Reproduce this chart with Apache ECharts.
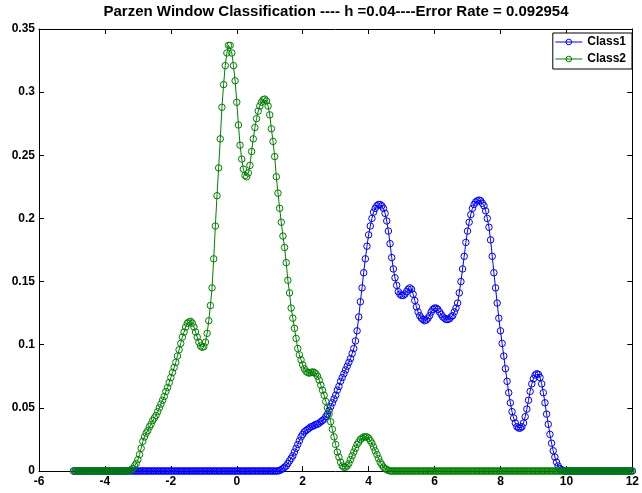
<!DOCTYPE html>
<html>
<head>
<meta charset="utf-8">
<script src="https://cdn.jsdelivr.net/npm/echarts@6/dist/echarts.min.js"></script>
<style>
  html, body { margin: 0; padding: 0; background: #fff; }
  #chart { width: 642px; height: 493px; }
</style>
</head>
<body>
<div id="chart"></div>
<script>
// Parzen-window density estimates, sampled on a uniform grid
const xStart = -4.95;
const xStep = 0.05;

// Class1 density, one row per 0.5 units of x (row 0 starts at -4.95)
const class1 = [
  0, 0, 0, 0, 0, 0, 0, 0, 0, 0,
  0, 0, 0, 0, 0, 0, 0, 0, 0, 0,
  0, 0, 0, 0, 0, 0, 0, 0, 0, 0,
  0, 0, 0, 0, 0, 0, 0, 0, 0, 0,
  0, 0, 0, 0, 0, 0, 0, 0, 0, 0,
  0, 0, 0, 0, 0, 0, 0, 0, 0, 0,
  0, 0, 0, 0, 0, 0, 0, 0, 0, 0,
  0, 0, 0, 0, 0, 0, 0, 0, 0, 0,
  0, 0, 0, 0, 0, 0, 0, 0, 0, 0,
  0, 0, 0, 0, 0, 0, 0, 0, 0, 0,
  0, 0, 0, 0, 0, 0, 0, 0, 0, 0,
  0, 0, 0, 0, 0, 0, 0, 0, 0, 0,
  0, 0, 0, 0, 0, 0.0005, 0.001, 0.002, 0.003, 0.004,
  0.006, 0.008, 0.010, 0.012, 0.015, 0.018, 0.021, 0.024, 0.027, 0.029,
  0.031, 0.032, 0.033, 0.034, 0.035, 0.0355, 0.036, 0.037, 0.037, 0.038,
  0.039, 0.040, 0.041, 0.043, 0.045, 0.048, 0.051, 0.054, 0.057, 0.060,
  0.064, 0.067, 0.071, 0.074, 0.077, 0.080, 0.083, 0.086, 0.089, 0.093,
  0.097, 0.103, 0.111, 0.122, 0.134, 0.145, 0.157, 0.168, 0.178, 0.187,
  0.194, 0.200, 0.205, 0.208, 0.210, 0.211, 0.211, 0.210, 0.208, 0.204,
  0.198, 0.190, 0.180, 0.169, 0.160, 0.153, 0.147, 0.142, 0.140, 0.139,
  0.139, 0.140, 0.142, 0.144, 0.145, 0.144, 0.140, 0.135, 0.130, 0.126,
  0.123, 0.121, 0.120, 0.119, 0.1195, 0.121, 0.123, 0.126, 0.128, 0.129,
  0.129, 0.128, 0.126, 0.124, 0.122, 0.121, 0.120, 0.120, 0.1205, 0.122,
  0.123, 0.126, 0.129, 0.133, 0.141, 0.150, 0.160, 0.170, 0.181, 0.190,
  0.197, 0.203, 0.208, 0.211, 0.213, 0.214, 0.2145, 0.214, 0.212, 0.210,
  0.206, 0.200, 0.193, 0.183, 0.170, 0.157, 0.145, 0.133, 0.121, 0.111,
  0.101, 0.091, 0.081, 0.071, 0.062, 0.054, 0.047, 0.042, 0.038, 0.035,
  0.034, 0.034, 0.035, 0.038, 0.043, 0.049, 0.056, 0.063, 0.069, 0.073,
  0.076, 0.077, 0.0765, 0.074, 0.069, 0.062, 0.054, 0.045, 0.037, 0.029,
  0.022, 0.016, 0.011, 0.007, 0.004, 0.002, 0.001, 0.0005, 0, 0,
  0, 0, 0, 0, 0, 0, 0, 0, 0, 0,
  0, 0, 0, 0, 0, 0, 0, 0, 0, 0,
  0, 0, 0, 0, 0, 0, 0, 0, 0, 0,
  0, 0, 0, 0, 0, 0, 0, 0, 0, 0
];

// Class2 density, same grid
const class2 = [
  0, 0, 0, 0, 0, 0, 0, 0, 0, 0,
  0, 0, 0, 0, 0, 0, 0, 0, 0, 0,
  0, 0, 0, 0, 0, 0, 0, 0, 0, 0,
  0, 0, 0, 0, 0.0005, 0.001, 0.002, 0.004, 0.006, 0.009,
  0.013, 0.018, 0.0235, 0.027, 0.030, 0.032, 0.035, 0.037, 0.040, 0.042,
  0.044, 0.047, 0.050, 0.053, 0.056, 0.059, 0.063, 0.066, 0.070, 0.074,
  0.078, 0.082, 0.086, 0.091, 0.096, 0.101, 0.106, 0.110, 0.114, 0.117,
  0.118, 0.1185, 0.117, 0.114, 0.110, 0.106, 0.102, 0.099, 0.098, 0.0985,
  0.102, 0.109, 0.119, 0.131, 0.145, 0.168, 0.194, 0.218, 0.240, 0.263,
  0.288, 0.306, 0.321, 0.331, 0.337, 0.337, 0.331, 0.321, 0.309, 0.292,
  0.274, 0.258, 0.247, 0.239, 0.234, 0.233, 0.236, 0.242, 0.253, 0.263,
  0.272, 0.279, 0.285, 0.289, 0.292, 0.294, 0.2945, 0.293, 0.289, 0.282,
  0.271, 0.261, 0.249, 0.233, 0.220, 0.208, 0.197, 0.186, 0.177, 0.165,
  0.151, 0.141, 0.129, 0.121, 0.113, 0.105, 0.097, 0.092, 0.088, 0.084,
  0.081, 0.079, 0.078, 0.0775, 0.078, 0.0785, 0.078, 0.077, 0.075, 0.072,
  0.068, 0.064, 0.060, 0.055, 0.050, 0.045, 0.039, 0.033, 0.027, 0.021,
  0.015, 0.011, 0.007, 0.004, 0.003, 0.003, 0.004, 0.006, 0.009, 0.012,
  0.015, 0.018, 0.021, 0.023, 0.025, 0.026, 0.027, 0.027, 0.027, 0.026,
  0.024, 0.022, 0.019, 0.016, 0.013, 0.010, 0.007, 0.005, 0.003, 0.002,
  0.001, 0.0005, 0, 0, 0, 0, 0, 0, 0, 0,
  0, 0, 0, 0, 0, 0, 0, 0, 0, 0,
  0, 0, 0, 0, 0, 0, 0, 0, 0, 0,
  0, 0, 0, 0, 0, 0, 0, 0, 0, 0,
  0, 0, 0, 0, 0, 0, 0, 0, 0, 0,
  0, 0, 0, 0, 0, 0, 0, 0, 0, 0,
  0, 0, 0, 0, 0, 0, 0, 0, 0, 0,
  0, 0, 0, 0, 0, 0, 0, 0, 0, 0,
  0, 0, 0, 0, 0, 0, 0, 0, 0, 0,
  0, 0, 0, 0, 0, 0, 0, 0, 0, 0,
  0, 0, 0, 0, 0, 0, 0, 0, 0, 0,
  0, 0, 0, 0, 0, 0, 0, 0, 0, 0,
  0, 0, 0, 0, 0, 0, 0, 0, 0, 0,
  0, 0, 0, 0, 0, 0, 0, 0, 0, 0,
  0, 0, 0, 0, 0, 0, 0, 0, 0, 0
];

const seriesNames = ['Class1', 'Class2'];
const seriesColors = ['#0000ff', '#008000'];
const titleText = 'Parzen Window Classification ---- h =0.04----Error Rate = 0.092954';

const FONT = '"Liberation Sans", Arial, Helvetica, sans-serif';

function toPairs(values) {
  return values.map((v, i) => [+(xStart + i * xStep).toFixed(2), v]);
}

const labelStyle = { fontFamily: FONT, fontWeight: 'bold', fontSize: 12, color: '#000' };
const frameLine = { show: true, onZero: false, lineStyle: { color: '#000', width: 1 } };
const innerTick = { show: true, inside: true, length: 5, lineStyle: { color: '#000', width: 1 } };

const chart = echarts.init(document.getElementById('chart'), null, { renderer: 'canvas' });

chart.setOption({
  animation: false,
  backgroundColor: '#fff',
  title: {
    text: titleText,
    left: 336,
    textAlign: 'center',
    top: 4,
    padding: 0,
    textStyle: { fontFamily: FONT, fontWeight: 'bold', fontSize: 15, color: '#000' }
  },
  legend: {
    data: seriesNames.map((n, k) => ({
      name: n,
      itemStyle: { color: 'rgba(0,0,0,0)', borderColor: seriesColors[k], borderWidth: 1 },
      lineStyle: { color: seriesColors[k], width: 1 }
    })),
    orient: 'vertical',
    right: 10,
    top: 33,
    backgroundColor: '#fff',
    borderColor: '#000',
    borderWidth: 1,
    borderRadius: 0,
    padding: [2, 6, 3, 2],
    itemGap: 3,
    itemWidth: 27,
    itemHeight: 7,
    selectedMode: false,
    textStyle: { fontFamily: FONT, fontWeight: 'bold', fontSize: 12, color: '#000', lineHeight: 14 }
  },
  grid: { left: 39, right: 9, top: 29, bottom: 22, containLabel: false },
  xAxis: [
    {
      type: 'value', min: -6, max: 12, interval: 2, position: 'bottom',
      axisLine: frameLine, axisTick: innerTick,
      axisLabel: Object.assign({ margin: 5 }, labelStyle),
      splitLine: { show: false }
    },
    {
      type: 'value', min: -6, max: 12, interval: 2, position: 'top',
      axisLine: frameLine, axisTick: innerTick,
      axisLabel: { show: false }, splitLine: { show: false }
    }
  ],
  yAxis: [
    {
      type: 'value', min: 0, max: 0.35, interval: 0.05, position: 'left',
      axisLine: frameLine, axisTick: innerTick,
      axisLabel: Object.assign({ margin: 4 }, labelStyle),
      splitLine: { show: false }
    },
    {
      type: 'value', min: 0, max: 0.35, interval: 0.05, position: 'right',
      axisLine: frameLine, axisTick: innerTick,
      axisLabel: { show: false }, splitLine: { show: false }
    }
  ],
  series: [class1, class2].map((vals, k) => ({
    name: seriesNames[k],
    type: 'line',
    xAxisIndex: 0,
    yAxisIndex: 0,
    data: toPairs(vals),
    symbol: 'circle',
    symbolSize: 6.5,
    showSymbol: true,
    showAllSymbol: true,
    itemStyle: { color: 'rgba(0,0,0,0)', borderColor: seriesColors[k], borderWidth: 1 },
    lineStyle: { color: seriesColors[k], width: 1 },
    emphasis: { disabled: true },
    silent: true
  }))
});
</script>
</body>
</html>
